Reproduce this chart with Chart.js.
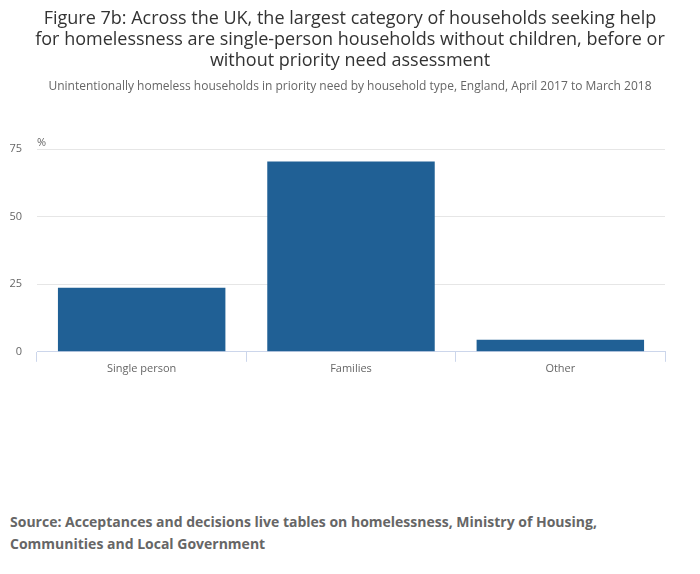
<!DOCTYPE html>
<html>
<head>
<meta charset="utf-8">
<script src="https://cdn.jsdelivr.net/npm/chart.js@4"></script>
<style>
  body { margin: 0; background: #fff; font-family: "Open Sans", sans-serif; }
  #wrap { position: relative; width: 700px; height: 574px; }
  #chart { position: absolute; left: 0; top: 0; }
  #title {
    position: absolute; left: 0; top: 7px; width: 700px; text-align: center;
    font-size: 18px; line-height: 21px; color: #333;
  }
  #subtitle {
    position: absolute; left: 0; top: 78px; width: 700px; text-align: center;
    font-size: 12px; line-height: 16px; color: #666;
  }
  #source {
    position: absolute; left: 10px; top: 511px; width: 660px;
    font-size: 14px; font-weight: bold; line-height: 22px; color: #666;
  }
</style>
</head>
<body>
<div id="wrap">
  <canvas id="chart" width="700" height="385"></canvas>
  <div id="title">Figure 7b: Across the UK, the largest category of households seeking help<br>for homelessness are single-person households without children, before or<br>without priority need assessment</div>
  <div id="subtitle">Unintentionally homeless households in priority need by household type, England, April 2017 to March 2018</div>
  <div id="source">Source: Acceptances and decisions live tables on homelessness, Ministry of Housing, Communities and Local Government</div>
</div>
<script>
var categories = ["Single person", "Families", "Other"];
var shares = [23.7, 70.4, 4.5];
var yTicks = [0, 25, 50, 75];

// little "%" unit label above the top gridline
var unitLabel = {
    id: 'unitLabel',
    afterDraw: function (chart) {
        var ctx = chart.ctx;
        ctx.save();
        ctx.font = '11px "Open Sans"';
        ctx.fillStyle = '#666';
        ctx.textAlign = 'left';
        ctx.textBaseline = 'middle';
        ctx.fillText('%', chart.chartArea.left, chart.chartArea.top - 6);
        ctx.restore();
    }
};

new Chart(document.getElementById("chart").getContext("2d"), {
    type: 'bar',
    data: {
        labels: categories,
        datasets: [{
            data: shares,
            backgroundColor: "#206095",
            borderWidth: 0,
            categoryPercentage: 1,
            barPercentage: 0.8
        }]
    },
    options: {
        responsive: false,
        animation: false,
        layout: { padding: { left: 10, right: 35, top: 149, bottom: 10 } },
        plugins: {
            legend: { display: false },
            tooltip: { enabled: false }
        },
        scales: {
            x: {
                grid: {
                    offset: true,
                    drawOnChartArea: false,
                    drawTicks: true,
                    tickLength: 10,
                    color: '#ccd6eb'
                },
                border: { color: '#ccd6eb' },
                ticks: {
                    color: '#666',
                    padding: 0,
                    font: { family: 'Open Sans', size: 11 }
                }
            },
            y: {
                min: 0,
                max: 75,
                afterBuildTicks: function (axis) {
                    axis.ticks = yTicks.map(function (v) { return { value: v }; });
                },
                afterFit: function (axis) {
                    axis.width = 27;
                },
                grid: { color: '#e6e6e6', drawTicks: false },
                border: { display: false },
                ticks: {
                    color: '#666',
                    padding: 15,
                    font: { family: 'Open Sans', size: 11 }
                }
            }
        }
    },
    plugins: [unitLabel]
});
</script>
</body>
</html>
